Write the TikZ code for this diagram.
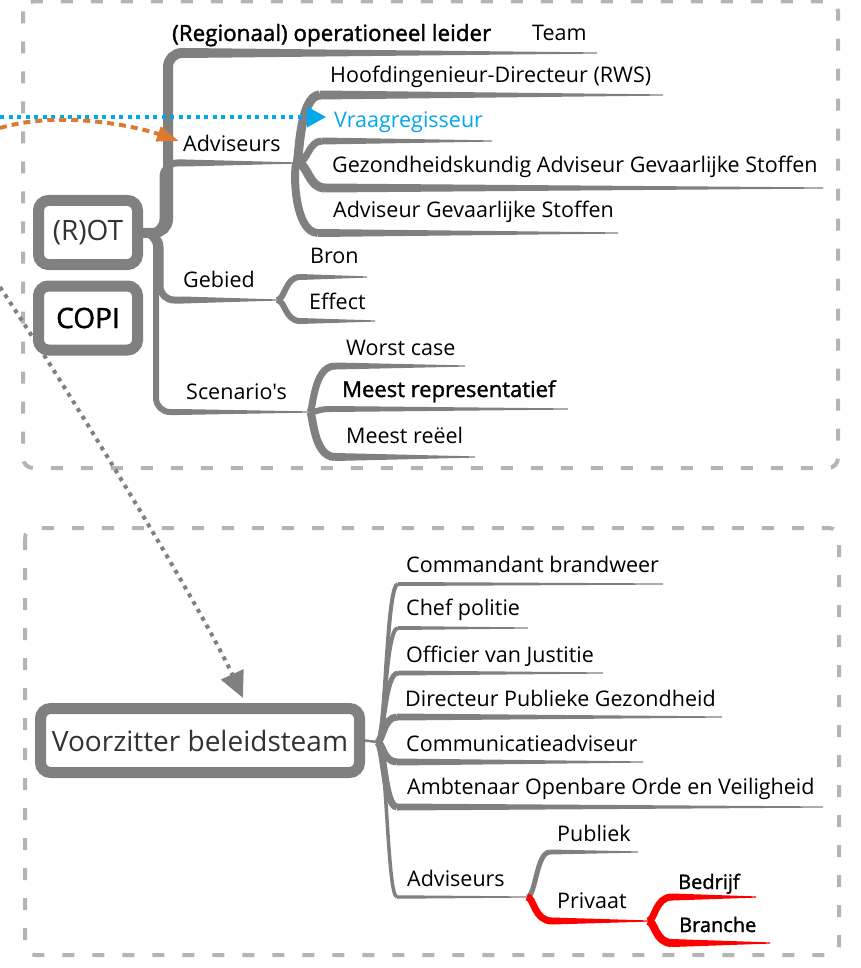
\documentclass[tikz,border=0pt]{standalone}
\usepackage{fontspec}
\setmainfont{Open Sans}[Ligatures=TeXOff]
\newfontfamily\semib{Open Sans}[FakeBold=1.5,Ligatures=TeXOff]
\usetikzlibrary{arrows.meta,calc}
\definecolor{brgray}{RGB}{128,128,128}
\definecolor{boxgray}{RGB}{180,180,180}
\definecolor{myblue}{RGB}{0,168,236}
\definecolor{myorange}{RGB}{221,122,50}
\definecolor{myred}{RGB}{255,0,0}
\definecolor{boxtext}{RGB}{50,50,50}
% curved mind-map branch: #2 junction, #3 control x, #4 line start x, #5 line y, #6 width, #7 line end x
\newcommand\mmb[7][brgray]{%
  \draw[#1,line width=#6pt] let \p1=(#2) in (\p1) .. controls (#3pt,\y1) and (#3,#5) .. (#4,#5);
  \fill[#1] (#4,{#5-#6/2}) -- (#7,{#5-0.6}) -- (#7,{#5+0.6}) -- (#4,{#5+#6/2}) -- cycle;}
% rounded-corner mind-map branch
\newcommand\mmr[7][brgray]{%
  \draw[#1,line width=#6pt,rounded corners=14pt] let \p1=(#2) in (\p1) -- (#3pt,\y1) -- (#3,#5) -- (#4,#5);
  \fill[#1] (#4,{#5-#6/2}) -- (#7,{#5-0.6}) -- (#7,{#5+0.6}) -- (#4,{#5+#6/2}) -- cycle;}
\tikzset{
  lbl/.style={anchor=base west, inner sep=0pt, font=\fontsize{21.5}{26}\selectfont},
  mainbox/.style={draw=brgray, fill=white, line width=11pt, rounded corners=10pt,
    inner sep=0pt, font=\fontsize{28}{32}\selectfont, text=boxtext},
  groupbox/.style={draw=boxgray, line width=4pt, dash pattern=on 12pt off 18pt, rounded corners=10pt},
}
\begin{document}
\begin{tikzpicture}[x=1pt,y=-1pt]
\useasboundingbox (0,0) rectangle (860,968);
% group frames
\draw[groupbox] (23,1.5) rectangle (838,468);
\draw[groupbox] (25,528) rectangle (839,955);

% ---------- top mind map ----------
\coordinate (rotJ) at (141,233);
\mmr{rotJ}{168}{185}{53}{10}{597}
\mmr{rotJ}{163}{185}{163}{7}{297}
\mmr{rotJ}{160}{183}{300}{7}{277}
\mmr{rotJ}{156}{178}{412}{6}{310}

\coordinate (advJ) at (297,163);
\mmb{advJ}{299}{320}{95}{9}{663}
\mmb{advJ}{308}{322}{141}{7}{492}
\mmb{advJ}{308}{325}{188}{9}{823}
\mmb{advJ}{293}{318}{233}{8}{618}

\coordinate (gebJ) at (277,300);
\mmb{gebJ}{285}{300}{277}{6}{367}
\mmb{gebJ}{285}{300}{321}{6}{375}

\coordinate (scnJ) at (310,412);
\mmb{scnJ}{313}{335}{366}{7}{465}
\mmb{scnJ}{318}{330}{409}{6}{568}
\mmb{scnJ}{313}{335}{457}{8}{475}

\node[mainbox, minimum width=99pt, minimum height=64pt] (rot) at (88,232.5) {(R)OT};
\node[mainbox, minimum width=99pt, minimum height=64pt, text=black] (copi) at (88,318) {\semib COPI};

\node[lbl, font=\fontsize{22.4}{26}\selectfont] (regionaal) at (172,41) {\semib (Regionaal) operationeel leider};
\node[lbl] (team) at (532,41) {Team};
\node[lbl] (hoofd) at (330,83) {Hoofdingenieur-Directeur (RWS)};
\node[lbl, text=myblue] (vraag) at (334,128) {Vraagregisseur};
\node[lbl] (adv) at (183,152) {Adviseurs};
\node[lbl] (gezond) at (332,173) {Gezondheidskundig Adviseur Gevaarlijke Stoffen};
\node[lbl] (advgs) at (333,218) {Adviseur Gevaarlijke Stoffen};
\node[lbl] (gebied) at (183,287) {Gebied};
\node[lbl] (bron) at (310,263) {Bron};
\node[lbl] (effect) at (309,309) {Effect};
\node[lbl] (scen) at (186,399) {Scenario's};
\node[lbl] (worst) at (346,355) {Worst case};
\node[lbl, font=\fontsize{22}{26}\selectfont] (repr) at (342,397) {\semib Meest representatief};
\node[lbl] (reeel) at (346,443) {Meest reëel};

% ---------- bottom mind map ----------
\node[mainbox, minimum width=319pt, minimum height=64pt] (vz) at (200,740.5) {Voorzitter beleidsteam};
\coordinate (vzJ) at (377,742);
\draw[brgray, line width=2.5pt] (vz.east) -- (vzJ);
\mmb{vzJ}{386}{398}{584}{4}{663}
\mmb{vzJ}{385}{398}{628}{4}{528}
\mmb{vzJ}{384}{398}{673}{5}{603}
\mmb{vzJ}{383}{397}{717}{7}{722}
\mmb{vzJ}{383}{397}{762}{7}{643}
\mmb{vzJ}{384}{397}{807}{7}{823}
\mmb{vzJ}{387}{397}{897}{3.5}{527}

\coordinate (badvJ) at (527,897);
\mmb{badvJ}{536}{550}{852}{5}{638}
\mmb[myred]{badvJ}{534}{552}{921}{7}{648}
\coordinate (privJ) at (648,921);
\mmb[myred]{privJ}{655}{672}{897}{7}{756}
\mmb[myred]{privJ}{655}{672}{943}{8}{770}

\node[lbl] (cmd) at (406,572) {Commandant brandweer};
\node[lbl] (chef) at (406,615) {Chef politie};
\node[lbl] (ovj) at (406,662) {Officier van Justitie};
\node[lbl] (dpg) at (405,706) {Directeur Publieke Gezondheid};
\node[lbl] (comm) at (406,751) {Communicatieadviseur};
\node[lbl] (aoov) at (407,794) {Ambtenaar Openbare Orde en Veiligheid};
\node[lbl] (badv) at (407,886) {Adviseurs};
\node[lbl] (publ) at (557,841) {Publiek};
\node[lbl] (priv) at (557,908) {Privaat};
\node[lbl, font=\fontsize{20}{24}\selectfont] (bedr) at (678,889) {\semib Bedrijf};
\node[lbl, font=\fontsize{20}{24}\selectfont] (bran) at (679,932) {\semib Branche};

% ---------- incoming dotted arrows ----------
\coordinate (bluestart) at (0,117);
\coordinate (vraagtip) at (326,117);
\draw[myblue, line width=3.5pt, dash pattern=on 4pt off 4.5pt, -{Triangle[length=19pt,width=20pt]}] (bluestart) -- (vraagtip);
\coordinate (orstart) at (0,128);
\coordinate (advtip) at (179,141);
\draw[myorange, line width=4pt, dash pattern=on 7pt off 5pt, -{Triangle[length=22pt,width=15pt]}] (orstart) .. controls (60,110) and (135,126) .. (advtip);
\coordinate (graystart) at (0,287);
\coordinate (vztip) at (243,698);
\draw[brgray, line width=4pt, dash pattern=on 4pt off 5pt, -{Triangle[length=26pt,width=24pt]}] (graystart) .. controls (80,408) and (205,615) .. (vztip);
\end{tikzpicture}
\end{document}
